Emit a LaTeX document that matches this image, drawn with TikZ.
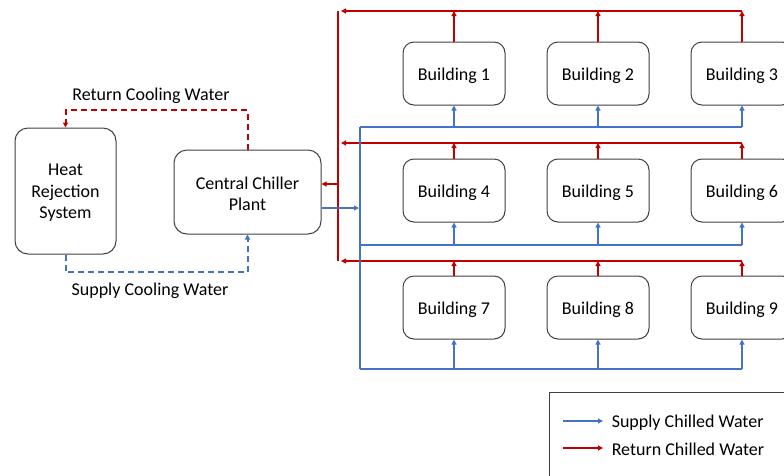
\documentclass[tikz,border=0pt]{standalone}
\usepackage{fontspec}
\setmainfont{Carlito}
\usetikzlibrary{arrows.meta}
\definecolor{supplyblue}{HTML}{4472C4}
\definecolor{returnred}{HTML}{C00000}
\definecolor{boxgray}{HTML}{404040}

\begin{document}
\begin{tikzpicture}[x=1pt,y=-1pt,
  unit/.style={draw=boxgray, line width=1pt, rounded corners=13pt,
    inner sep=0pt, fill=white},
  bldg/.style={unit, minimum width=102pt, minimum height=63pt, rounded corners=11pt,
    font=\fontsize{18}{21.5}\selectfont, text height=15.5pt, text depth=1.5pt},
  supply/.style={draw=supplyblue, line width=2pt},
  ret/.style={draw=returnred, line width=2pt},
  tip/.style={-{Triangle[length=5pt,width=5pt]}},
  cw/.style={line width=2pt, dash pattern=on 6pt off 4pt},
  lbl/.style={font=\fontsize{18}{21.5}\selectfont, inner sep=0pt, align=center}
]
\path[use as bounding box, clip] (0,0) rectangle (784,475);

% plant side
\node[unit, minimum width=101pt, minimum height=126pt] (hrs) at (65.5,191) {};
\node[lbl] (hrstext) at ([yshift=-2pt]hrs.center) {Heat\\Rejection\\System};
\node[unit, minimum width=147pt, minimum height=84pt] (ccp) at (247.5,192) {};
\node[lbl] (ccptext) at ([yshift=-2pt]ccp.center) {Central Chiller\\Plant};

% buildings
\foreach \n/\x/\y in {1/454/73.5, 2/598/73.5, 3/742/73.5,
                      4/454/190.5, 5/598/190.5, 6/742/190.5,
                      7/454/307.5, 8/598/307.5, 9/742/307.5}
  \node[bldg] (b\n) at (\x,\y) {Building \n};

% condenser water loop
\coordinate (cwtop) at (0,110);
\coordinate (cwbot) at (0,272);
\draw[returnred, cw, tip] (ccp.north) -- (ccp.north |- cwtop) -| (hrs.north);
\draw[supplyblue, cw, tip] (hrs.south) -- (hrs.south |- cwbot) -| (ccp.south);
\node[lbl] (rcw) at (151,95.5) {Return Cooling Water};
\node[lbl] (scw) at (150,290.5) {Supply Cooling Water};

% chilled water headers
\coordinate (r1) at (338,11);
\coordinate (r2) at (338,143);
\coordinate (r3) at (338,261);
\coordinate (s1) at (360,127);
\coordinate (s2) at (360,245);
\coordinate (s3) at (360,369);
\coordinate (rin) at (338,184);
\coordinate (sout) at (360,208);

% return headers
\draw[ret] (r1) -- (r3);
\foreach \r/\a/\b/\c in {r1/b1/b2/b3, r2/b4/b5/b6, r3/b7/b8/b9} {
  \draw[ret, tip] (\c.north |- \r) -- ([xshift=3pt]\r);
  \foreach \bb in {\a,\b,\c}
    \draw[ret, tip] (\bb.north) -- (\bb.north |- \r);
}
\draw[ret, tip] (rin) -- (rin -| ccp.east);

% supply headers
\draw[supply] (s1) -- (s3);
\foreach \s/\a/\b/\c in {s1/b1/b2/b3, s2/b4/b5/b6, s3/b7/b8/b9} {
  \draw[supply] (\s) -- (\c.south |- \s);
  \foreach \bb in {\a,\b,\c}
    \draw[supply, tip] (\bb.south |- \s) -- (\bb.south);
}
\draw[supply, tip] (sout -| ccp.east) -- ([xshift=-1pt]sout);

% legend
\node[draw=boxgray, line width=1pt, minimum width=260pt, minimum height=110pt,
  anchor=north west, inner sep=0pt] (legend) at (549,392) {};
\coordinate (ls) at (563,421);
\coordinate (lr) at (563,448);
\draw[supply, line width=1.5pt, tip] (ls) -- ++(40,0)
  node[lbl, anchor=west, xshift=8pt, yshift=-1.5pt] (lsupply) {Supply Chilled Water};
\draw[ret, line width=1.5pt, tip] (lr) -- ++(40,0)
  node[lbl, anchor=west, xshift=8pt, yshift=-1.5pt] (lreturn) {Return Chilled Water};
\end{tikzpicture}
\end{document}
